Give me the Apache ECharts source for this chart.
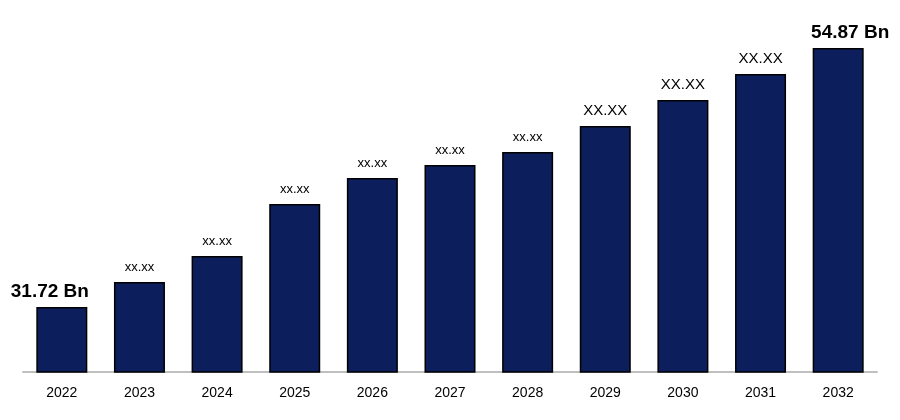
<!DOCTYPE html><html><head><meta charset="utf-8"><script src="https://cdn.jsdelivr.net/npm/echarts@6/dist/echarts.min.js"></script></head><body style="margin:0"><div id="c" style="width:900px;height:420px"></div><script>
const years=['2022','2023','2024','2025','2026','2027','2028','2029','2030','2031','2032'];
const values=[31.72,33.95,36.28,40.93,43.25,44.41,45.57,47.90,50.22,52.55,54.87];
const labels=['31.72 Bn','xx.xx','xx.xx','xx.xx','xx.xx','xx.xx','xx.xx','XX.XX','XX.XX','XX.XX','54.87 Bn'];
const big=[true,false,false,false,false,false,false,false,false,false,true];
const mid=[false,false,false,false,false,false,false,true,true,true,false];
const c=echarts.init(document.getElementById('c'));
c.setOption({animation:false,grid:{left:23,right:23,top:20,bottom:48},
xAxis:{type:'category',data:years,axisTick:{show:false},axisLine:{lineStyle:{color:'#bfbfbf',width:2}},axisLabel:{color:'#000',fontSize:14,fontFamily:'Liberation Sans',margin:14}},
yAxis:{type:'value',min:25.91,max:57.37,show:false,splitLine:{show:false}},
series:[{type:'bar',barWidth:51,data:values.map((v,i)=>({value:v,label:{show:true,position:'top',distance:big[i]?6:8,offset:big[i]?(i==0?[-12,0]:[12,0]):[0,0],formatter:labels[i],color:'#000',fontFamily:'Liberation Sans',fontWeight:big[i]?'bold':'normal',fontSize:big[i]?19:(mid[i]?15:13)}})),
itemStyle:{color:'#0c1f5c',borderColor:'#000',borderWidth:1.5}}]});
</script></body></html>
